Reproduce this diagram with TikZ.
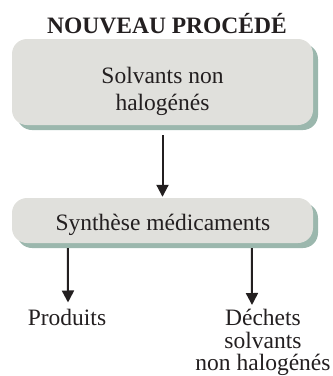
\documentclass[tikz,border=0pt]{standalone}
\usepackage{fontspec}
\setmainfont{Liberation Serif}
\usetikzlibrary{arrows.meta,calc,shadows}
\definecolor{boxfill}{RGB}{224,224,220}
\definecolor{shadowc}{RGB}{155,183,173}
\definecolor{inkc}{RGB}{35,31,32}
\begin{document}
\begin{tikzpicture}[x=1pt,y=-1pt,
  procbox/.style={fill=boxfill, rounded corners=15pt, inner sep=0pt,
    minimum width=301pt,
    general shadow={fill=shadowc, shadow xshift=5pt, shadow yshift=-5pt}},
  txt/.style={inner sep=0pt, text=inkc, font=\fontsize{23.5}{27}\selectfont},
  flow/.style={draw=inkc, line width=2pt, -{Triangle[length=12pt,width=12pt]}}]
\useasboundingbox (0,0) rectangle (333,376);

\node[txt, font=\fontsize{23.5}{27}\selectfont\bfseries, anchor=base] (title) at (167,33) {NOUVEAU PROCÉDÉ};

\node[procbox, minimum height=86pt] (b1) at (162.5,82) {};
\node[txt, align=center] (t1) at (162.5,91) {Solvants non\\halogénés};

\node[procbox, minimum height=45pt] (b2) at (162.5,220.5) {};
\node[txt, anchor=base] (t2) at (163,230) {Synthèse médicaments};

\node[txt, anchor=base] (p) at (67,325) {Produits};
\node[txt, align=center, anchor=north, font=\fontsize{23.5}{22.5}\selectfont] (d) at (263,309) {Déchets\\solvants\\non halogénés};

\draw[flow] ($(b1.south)+(0,10)$) -- ($(b2.north)+(0,-1)$);
\draw[flow] ($(b2.south west)+(56,5)$) -- ($(p.north)+(1,-6)$);
\coordinate (dtip) at ($(d.north)+(-11,-4)$);
\draw[flow] ($(b2.south west)+(240,5)$) -- (dtip);
\end{tikzpicture}
\end{document}
